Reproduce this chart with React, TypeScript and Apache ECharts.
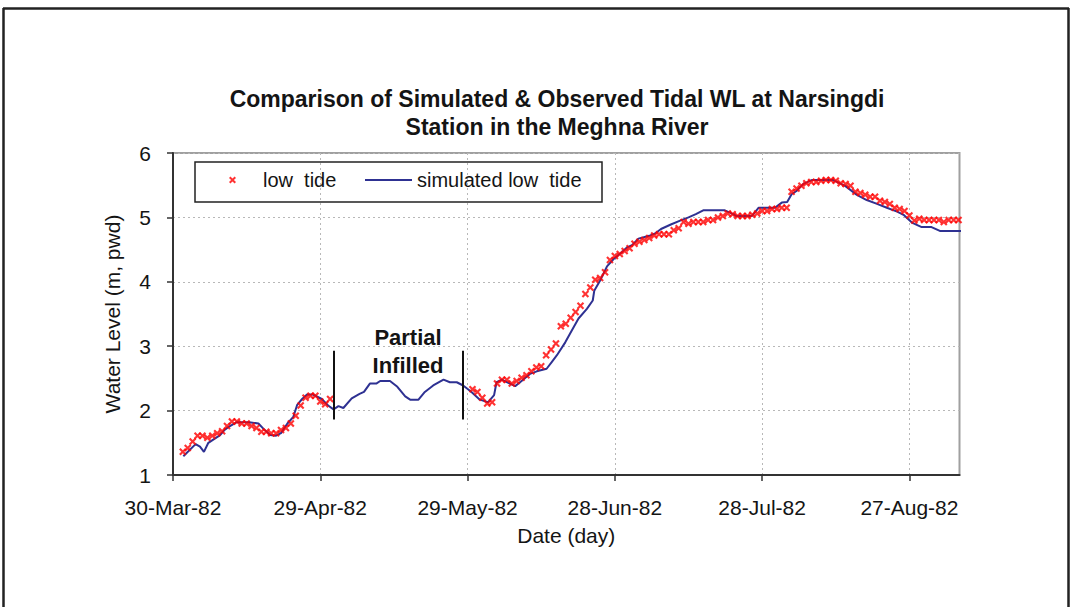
import React, { useEffect, useRef } from 'react';
import * as echarts from 'echarts';

// x axis: days counted from 30-Mar-82
const xTickLabels = ['30-Mar-82', '29-Apr-82', '29-May-82', '28-Jun-82', '28-Jul-82', '27-Aug-82'];
const yTicks = [1, 2, 3, 4, 5, 6];

// observed low tide (daily), two stretches around the infilled gap
const obsStart1 = 2;
const obsValues1 = [1.36, 1.42, 1.52, 1.61, 1.61, 1.58, 1.61, 1.65, 1.68, 1.76, 1.83, 1.83, 1.80, 1.80, 1.76, 1.73,
  1.67, 1.67, 1.65, 1.65, 1.70, 1.73, 1.80, 1.92, 2.08, 2.20, 2.23, 2.23, 2.14, 2.10, 2.18];
const obsStart2 = 61;
const obsValues2 = [2.33, 2.29, 2.20, 2.11, 2.13, 2.42, 2.48, 2.48, 2.42, 2.46, 2.51, 2.55, 2.61, 2.67, 2.69, 2.86,
  2.95, 3.04, 3.31, 3.35, 3.44, 3.53, 3.63, 3.81, 3.91, 4.03, 4.06, 4.15, 4.34, 4.40, 4.43, 4.48, 4.52, 4.59, 4.62,
  4.65, 4.68, 4.72, 4.74, 4.74, 4.74, 4.80, 4.83, 4.93, 4.90, 4.93, 4.93, 4.93, 4.96, 4.96, 5.00, 5.02, 5.06, 5.05,
  5.02, 5.02, 5.02, 5.04, 5.06, 5.10, 5.10, 5.13, 5.13, 5.15, 5.15, 5.40, 5.45, 5.49, 5.53, 5.55, 5.55, 5.57, 5.58,
  5.58, 5.57, 5.53, 5.52, 5.49, 5.40, 5.38, 5.35, 5.32, 5.32, 5.26, 5.24, 5.21, 5.15, 5.13, 5.10, 5.03, 4.95, 4.98,
  4.96, 4.96, 4.96, 4.96, 4.93, 4.96, 4.96, 4.96];

// simulated low tide
const simDays = [2.1, 4.6, 5.5, 6.3, 7.2, 8.2, 9.6, 10.5, 11.6, 13.0, 15.5, 17.4, 18.4, 19.8, 21.0, 22.0, 23.3, 24.5,
  25.3, 26.3, 27.3, 28.5, 30.3, 31.6, 32.7, 33.7, 34.7, 36.4, 38.0, 38.9, 40.1, 41.4, 42.2, 44.2, 45.7, 47.3, 48.3,
  50.0, 51.3, 53.0, 55.1, 56.4, 57.8, 59.1, 60.8, 62.5, 64.2, 65.4, 65.9, 67.0, 68.3, 69.7, 71.0, 72.7, 74.1, 76.1,
  77.1, 78.2, 79.9, 81.2, 82.6, 84.3, 85.5, 85.8, 87.0, 88.4, 89.7, 91.4, 92.4, 93.5, 94.8, 97.2, 98.2, 99.4, 101.4,
  103.3, 105.0, 106.5, 108.0, 112.4, 114.1, 114.8, 117.9, 119.3, 122.6, 124.0, 125.1, 126.0, 127.0, 128.4, 130.1,
  134.5, 136.9, 139.3, 141.3, 143.4, 145.4, 147.5, 148.8, 150.5, 152.5, 154.5, 156.2, 161.7];
const simValues = [1.29, 1.48, 1.44, 1.36, 1.50, 1.55, 1.62, 1.70, 1.76, 1.82, 1.82, 1.80, 1.72, 1.62, 1.61, 1.65,
  1.80, 1.90, 2.09, 2.18, 2.25, 2.25, 2.18, 2.08, 2.02, 2.07, 2.04, 2.19, 2.26, 2.29, 2.42, 2.42, 2.46, 2.46, 2.37,
  2.22, 2.17, 2.17, 2.29, 2.39, 2.48, 2.44, 2.44, 2.39, 2.29, 2.17, 2.13, 2.24, 2.44, 2.48, 2.43, 2.38, 2.46, 2.57,
  2.61, 2.65, 2.75, 2.86, 3.06, 3.24, 3.43, 3.58, 3.71, 3.86, 4.02, 4.24, 4.35, 4.46, 4.53, 4.57, 4.67, 4.72, 4.75,
  4.82, 4.89, 4.95, 5.00, 5.05, 5.11, 5.11, 5.05, 5.02, 5.02, 5.15, 5.15, 5.23, 5.24, 5.36, 5.41, 5.52, 5.58, 5.58,
  5.49, 5.35, 5.27, 5.21, 5.15, 5.09, 5.04, 4.92, 4.85, 4.85, 4.79, 4.79];

// infilled-period bounds (day) and the extent of their marker lines (m)
const infillBounds = [32.7, 59.1];
const infillMarkRange = [1.86, 2.93];

const X_MARK = 'path://M0,2 L2,0 L5,3 L8,0 L10,2 L7,5 L10,8 L8,10 L5,7 L2,10 L0,8 L3,5 Z';

export default function App() {
  const ref = useRef<HTMLDivElement>(null);
  useEffect(() => {
    const chart = echarts.init(ref.current!, null, { renderer: 'svg' });
    const font = "'Liberation Sans', Arial, sans-serif";
    const textColor = '#141414';
    const obsData = [
      ...obsValues1.map((v, i) => [obsStart1 + i, v]),
      ...obsValues2.map((v, i) => [obsStart2 + i, v]),
    ];
    const simData = simDays.map((d, i) => [d, simValues[i]]);
    const tickVals = xTickLabels.map((_, i) => i * 30);

    chart.setOption({
      animation: false,
      backgroundColor: '#ffffff',
      title: {
        text: 'Comparison of Simulated & Observed Tidal WL at Narsingdi\nStation in the Meghna River',
        left: 557,
        top: 85,
        textAlign: 'center',
        padding: 0,
        textStyle: { fontFamily: font, fontSize: 23, fontWeight: 'bold', color: textColor, lineHeight: 28 },
      },
      legend: [
        {
          data: [{ name: 'low  tide', icon: X_MARK }],
          left: 229, top: 170, padding: 0,
          itemWidth: 7, itemHeight: 7,
          selectedMode: false,
          textStyle: { fontFamily: font, fontSize: 20, color: textColor, padding: [0, 0, 0, 22] },
        },
        {
          data: [{ name: 'simulated low  tide', icon: 'rect' }],
          left: 365, top: 170, padding: 0,
          itemWidth: 47, itemHeight: 2,
          selectedMode: false,
          textStyle: { fontFamily: font, fontSize: 20, color: textColor },
        },
      ],
      grid: {
        left: 173, right: 1071 - 959.5, top: 153, bottom: 132,
        show: true, borderColor: '#a0a0a0', borderWidth: 2,
        outerBoundsMode: 'none',
      },
      xAxis: {
        type: 'value',
        min: 0, max: 160.2, interval: 30,
        name: 'Date (day)', nameLocation: 'middle', nameGap: 50,
        nameTextStyle: { fontFamily: font, fontSize: 21, color: textColor },
        axisLine: { show: true, onZero: false, lineStyle: { color: '#333', width: 2 } },
        axisTick: { show: true, inside: false, length: 6, lineStyle: { color: '#333', width: 1.5 }, customValues: tickVals },
        axisLabel: {
          fontFamily: font, fontSize: 21, color: textColor, margin: 22, customValues: tickVals,
          formatter: (v: number) => (Math.abs(v % 30) < 1e-6 ? xTickLabels[Math.round(v / 30)] : ''),
        },
        splitLine: { show: true, lineStyle: { color: '#b8b8b8', type: [2, 3], width: 1 } },
      },
      yAxis: {
        type: 'value',
        min: yTicks[0], max: yTicks[yTicks.length - 1], interval: 1,
        name: 'Water Level (m, pwd)', nameLocation: 'middle', nameGap: 50, nameRotate: 90,
        nameTextStyle: { fontFamily: font, fontSize: 21, color: textColor },
        axisLine: { show: true, onZero: false, lineStyle: { color: '#333', width: 2 } },
        axisTick: { show: true, inside: false, length: 6, lineStyle: { color: '#333', width: 1.5 } },
        axisLabel: { fontFamily: font, fontSize: 21, color: textColor, margin: 22 },
        splitLine: { show: true, lineStyle: { color: '#b8b8b8', type: [2, 3], width: 1 } },
      },
      graphic: [
        { type: 'line', shape: { x1: 3.5, y1: 8, x2: 3.5, y2: 607 }, style: { stroke: '#222', lineWidth: 2.5 } },
        { type: 'line', shape: { x1: 3, y1: 8.5, x2: 1069, y2: 8.5 }, style: { stroke: '#222', lineWidth: 2.5 } },
        { type: 'line', shape: { x1: 1068.5, y1: 8, x2: 1068.5, y2: 607 }, style: { stroke: '#222', lineWidth: 2.5 } },
        {
          type: 'rect', shape: { x: 195, y: 162, width: 407, height: 40 },
          style: { fill: 'none', stroke: '#222', lineWidth: 1.5 }, z: 1,
        },
        {
          type: 'text', x: 408, y: 351, z: 10,
          style: {
            text: 'Partial\nInfilled', font: `bold 22px ${font}`, fill: textColor,
            align: 'center', verticalAlign: 'middle', lineHeight: 28,
          },
        },
      ],
      series: [
        {
          name: 'simulated low  tide',
          type: 'line',
          data: simData,
          symbol: 'none',
          showSymbol: false,
          clip: false,
          color: '#2E3192',
          lineStyle: { color: '#2E3192', width: 2 },
          z: 2,
          markLine: {
            silent: true,
            symbol: ['none', 'none'],
            label: { show: false },
            lineStyle: { color: '#111', width: 2, type: 'solid' },
            data: infillBounds.map((d) => [
              { coord: [d, infillMarkRange[1]] },
              { coord: [d, infillMarkRange[0]] },
            ]),
          },
        },
        {
          name: 'low  tide',
          type: 'scatter',
          data: obsData,
          symbol: X_MARK,
          symbolSize: 7.5,
          color: '#FF0000',
          itemStyle: { color: '#FF0000' },
          z: 3,
        },
      ],
    });
    return () => chart.dispose();
  }, []);
  return (
    <div
      ref={ref}
      style={{ position: 'fixed', left: 0, top: 0, width: 1071, height: 607, background: '#fff' }}
    />
  );
}
